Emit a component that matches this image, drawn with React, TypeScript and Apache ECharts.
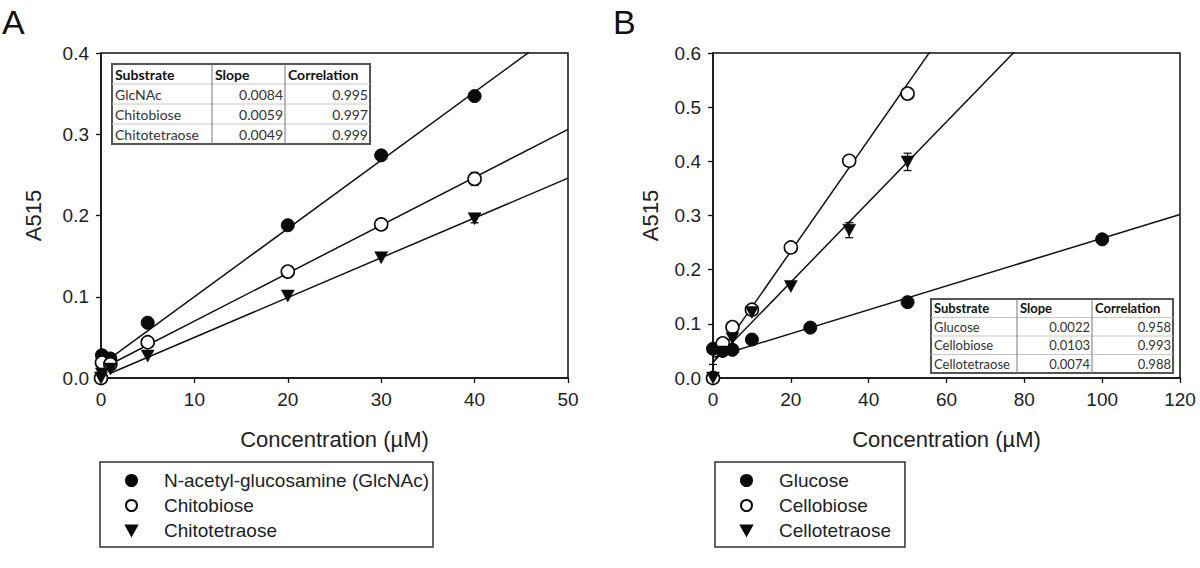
import React, { useEffect, useRef } from "react";
import * as echarts from "echarts";

// ---------- Panel A data ----------
const concA = [0, 0.1, 1, 5, 20, 30, 40];
const glcnacA = [0, 0.028, 0.024, 0.068, 0.188, 0.274, 0.347];
const chitobioseA = [0, 0.019, 0.017, 0.044, 0.131, 0.189, 0.245];
const chitotetraoseA = [0, 0.005, 0.011, 0.027, 0.101, 0.148, 0.196];
const glcnacErrA = [0, 0, 0, 0, 0, 0.005, 0];
const chitobioseErrA = [0, 0, 0, 0.006, 0, 0, 0.008];
const chitotetraoseErrA = [0, 0, 0, 0, 0, 0, 0.005];

const namesA = ["N-acetyl-glucosamine (GlcNAc)", "Chitobiose", "Chitotetraose"];
const substratesA = ["GlcNAc", "Chitobiose", "Chitotetraose"];
const slopesA = [0.0084, 0.0059, 0.0049];
const correlationsA = [0.995, 0.997, 0.999];
const interceptsA = [0.016, 0.011, 0.001];
const fitRangeA = [1, 50];

// ---------- Panel B data ----------
const glucoseX = [0, 2.5, 5, 10, 25, 50, 100];
const glucoseY = [0.054, 0.05, 0.052, 0.071, 0.093, 0.14, 0.256];
const glucoseErr = [0, 0, 0, 0, 0, 0, 0.004];
const concB = [0, 2.5, 5, 10, 20, 35, 50];
const cellobioseY = [0, 0.064, 0.094, 0.126, 0.241, 0.401, 0.525];
const cellotetraoseY = [0, 0.048, 0.073, 0.121, 0.169, 0.273, 0.399];
const cellobioseErr = [0, 0.006, 0, 0, 0, 0, 0];
const cellotetraoseErr = [0.025, 0, 0.012, 0, 0, 0.014, 0.016];

const namesB = ["Glucose", "Cellobiose", "Cellotetraose"];
const substratesB = ["Glucose", "Cellobiose", "Cellotetraose"];
const slopesB = [0.0022, 0.0103, 0.0074];
const correlationsB = [0.958, 0.993, 0.988];
const interceptsB = [0.038, 0.028, 0.029];
const fitRangeB = [0, 120];

const tableHeader = ["Substrate", "Slope", "Correlation"];

const AXIS_FONT = "'Liberation Sans', Arial, sans-serif";
const TABLE_FONT = "Lato, 'Open Sans', sans-serif";
const TRI = "path://M0,0L10,0L5,9Z";

const pairs = (xs: number[], ys: number[]) => xs.map((x, i) => [x, ys[i]]);
const errPairs = (xs: number[], ys: number[], es: number[]) =>
  xs.map((x, i) => [x, ys[i], es[i]]).filter((d) => d[2] > 0);
const fitLine = (slope: number, icpt: number, range: number[]) =>
  range.map((x) => [x, icpt + slope * x]);

function buildTable(
  colX: number[],
  top: number,
  rowH: number,
  fontSize: number,
  subs: string[],
  slopes: number[],
  corrs: number[]
) {
  const children: any[] = [];
  const nRows = subs.length + 1;
  const bottom = top + rowH * nRows;
  children.push({
    type: "rect",
    shape: { x: colX[0], y: top, width: colX[3] - colX[0], height: rowH * nRows },
    style: { fill: "#fff", stroke: "#555", lineWidth: 2 },
    z: 10,
  });
  for (let r = 1; r < nRows; r++) {
    children.push({
      type: "line",
      shape: { x1: colX[0], y1: top + r * rowH, x2: colX[3], y2: top + r * rowH },
      style: { stroke: "#c8c8c8", lineWidth: 1 },
      z: 11,
    });
  }
  for (let c = 1; c < 3; c++) {
    children.push({
      type: "line",
      shape: { x1: colX[c], y1: top, x2: colX[c], y2: bottom },
      style: { stroke: "#777", lineWidth: 1 },
      z: 11,
    });
  }
  tableHeader.forEach((h, c) => {
    children.push({
      type: "text",
      x: colX[c] + 3,
      y: top + rowH / 2,
      style: {
        text: h,
        fill: "#111",
        fontSize,
        fontWeight: "bold",
        fontFamily: TABLE_FONT,
        textAlign: "left",
        textVerticalAlign: "middle",
      },
      z: 12,
    });
  });
  subs.forEach((s, i) => {
    const cy = top + rowH * (i + 1) + rowH / 2;
    const cells = [s, slopes[i].toFixed(4), corrs[i].toFixed(3)];
    cells.forEach((t, c) => {
      children.push({
        type: "text",
        x: c === 0 ? colX[0] + 3 : colX[c + 1] - 2,
        y: cy,
        style: {
          text: t,
          fill: "#333",
          fontSize,
          fontFamily: TABLE_FONT,
          textAlign: c === 0 ? "left" : "right",
          textVerticalAlign: "middle",
        },
        z: 12,
      });
    });
  });
  return children;
}

function errorBarSeries(data: number[][], xi: number) {
  return {
    type: "custom",
    xAxisIndex: xi,
    yAxisIndex: xi,
    silent: true,
    z: 2,
    data,
    renderItem: (params: any, api: any) => {
      const x = api.value(0);
      const y = api.value(1);
      const e = api.value(2);
      const top = api.coord([x, y + e]);
      const bot = api.coord([x, Math.max(0, y - e)]);
      const hw = 4;
      const st = { stroke: "#111", lineWidth: 1.3 };
      return {
        type: "group",
        children: [
          { type: "line", shape: { x1: top[0], y1: top[1], x2: bot[0], y2: bot[1] }, style: st },
          { type: "line", shape: { x1: top[0] - hw, y1: top[1], x2: top[0] + hw, y2: top[1] }, style: st },
          { type: "line", shape: { x1: bot[0] - hw, y1: bot[1], x2: bot[0] + hw, y2: bot[1] }, style: st },
        ],
      };
    },
  };
}

function axisCommon(name: string) {
  return {
    type: "value",
    name,
    nameLocation: "middle",
    nameTextStyle: { fontSize: 22, fontFamily: AXIS_FONT, color: "#222" },
    axisLine: { show: true, lineStyle: { color: "#111", width: 1.5 } },
    axisTick: { show: true, inside: false, length: 5, lineStyle: { color: "#111", width: 1.3 } },
    axisLabel: { fontSize: 19, fontFamily: AXIS_FONT, color: "#222" },
    splitLine: { show: false },
  };
}

const markerStyles = [
  { symbol: "circle", symbolSize: 13, itemStyle: { color: "#0a0a0a", borderColor: "#0a0a0a", borderWidth: 1, opacity: 1 } },
  { symbol: "circle", symbolSize: 13, itemStyle: { color: "#fff", borderColor: "#0a0a0a", borderWidth: 1.6, opacity: 1 } },
  { symbol: TRI, symbolSize: [13, 12], itemStyle: { color: "#0a0a0a", borderColor: "#0a0a0a", borderWidth: 0.5, opacity: 1 } },
];

export default function App() {
  const ref = useRef<HTMLDivElement>(null);
  useEffect(() => {
    if (!ref.current) return;
    const chart = echarts.init(ref.current, undefined, { renderer: "svg" });

    const seriesA = [
      pairs(concA, glcnacA),
      pairs(concA, chitobioseA),
      pairs(concA, chitotetraoseA),
    ];
    const errA = [
      errPairs(concA, glcnacA, glcnacErrA),
      errPairs(concA, chitobioseA, chitobioseErrA),
      errPairs(concA, chitotetraoseA, chitotetraoseErrA),
    ];
    const seriesB = [
      pairs(glucoseX, glucoseY),
      pairs(concB, cellobioseY),
      pairs(concB, cellotetraoseY),
    ];
    const errB = [
      errPairs(glucoseX, glucoseY, glucoseErr),
      errPairs(concB, cellobioseY, cellobioseErr),
      errPairs(concB, cellotetraoseY, cellotetraoseErr),
    ];

    const series: any[] = [];
    [0, 1, 2].forEach((i) => {
      series.push({
        type: "line",
        xAxisIndex: 0,
        yAxisIndex: 0,
        data: fitLine(slopesA[i], interceptsA[i], fitRangeA),
        showSymbol: false,
        symbol: "none",
        silent: true,
        clip: true,
        lineStyle: { color: "#111", width: 1.5 },
        z: 1,
      });
      series.push({
        type: "line",
        xAxisIndex: 1,
        yAxisIndex: 1,
        data: fitLine(slopesB[i], interceptsB[i], fitRangeB),
        showSymbol: false,
        symbol: "none",
        silent: true,
        clip: true,
        lineStyle: { color: "#111", width: 1.5 },
        z: 1,
      });
      series.push(errorBarSeries(errA[i], 0));
      series.push(errorBarSeries(errB[i], 1));
    });
    [0, 1, 2].forEach((i) => {
      series.push({
        type: "scatter",
        name: namesA[i],
        xAxisIndex: 0,
        yAxisIndex: 0,
        data: seriesA[i],
        silent: true,
        z: 3,
        ...markerStyles[i],
      });
      series.push({
        type: "scatter",
        name: namesB[i],
        xAxisIndex: 1,
        yAxisIndex: 1,
        data: seriesB[i],
        silent: true,
        z: 3,
        ...markerStyles[i],
      });
    });

    const legendCommon = {
      orient: "vertical",
      top: 462,
      borderColor: "#333",
      borderWidth: 1.5,
      itemWidth: 11,
      itemHeight: 11,
      itemGap: 6,
      selectedMode: false,
      itemStyle: { opacity: 1 },
      textStyle: { fontSize: 19, fontFamily: AXIS_FONT, color: "#222", padding: [0, 0, 0, 22] },
    };

    chart.setOption({
      animation: false,
      backgroundColor: "#fff",
      grid: [
        { left: 101, top: 53, width: 467, height: 325, show: true, borderColor: "#111", borderWidth: 1.5, backgroundColor: "transparent" },
        { left: 713, top: 53, width: 467, height: 325, show: true, borderColor: "#111", borderWidth: 1.5, backgroundColor: "transparent" },
      ],
      xAxis: [
        { ...axisCommon("Concentration (µM)"), gridIndex: 0, min: 0, max: 50, interval: 10, nameGap: 50, axisLabel: { ...axisCommon("").axisLabel, margin: 12 } },
        { ...axisCommon("Concentration (µM)"), gridIndex: 1, min: 0, max: 120, interval: 20, nameGap: 50, axisLabel: { ...axisCommon("").axisLabel, margin: 12 } },
      ],
      yAxis: [
        { ...axisCommon("A515"), gridIndex: 0, min: 0, max: 0.4, interval: 0.1, nameGap: 57, axisLabel: { ...axisCommon("").axisLabel, margin: 12, formatter: (v: number) => v.toFixed(1) } },
        { ...axisCommon("A515"), gridIndex: 1, min: 0, max: 0.6, interval: 0.1, nameGap: 52, axisLabel: { ...axisCommon("").axisLabel, margin: 12, formatter: (v: number) => v.toFixed(1) } },
      ],
      legend: [
        { ...legendCommon, data: namesA, left: 100, padding: [9, 4, 7, 25] },
        { ...legendCommon, data: namesB, left: 715, padding: [9, 14, 7, 25] },
      ],
      graphic: [
        {
          type: "text",
          left: 2,
          top: 5,
          style: { text: "A", fontSize: 34, fontFamily: AXIS_FONT, fill: "#111" },
        },
        {
          type: "text",
          left: 613,
          top: 5,
          style: { text: "B", fontSize: 34, fontFamily: AXIS_FONT, fill: "#111" },
        },
        {
          type: "group",
          children: buildTable([112, 212, 285, 370], 64, 20, 14, substratesA, slopesA, correlationsA),
        },
        {
          type: "group",
          children: buildTable([931, 1017, 1092, 1173], 299, 18.5, 13, substratesB, slopesB, correlationsB),
        },
      ],
      series,
    });
    return () => chart.dispose();
  }, []);
  return (
    <div
      ref={ref}
      style={{ position: "fixed", left: 0, top: 0, width: 1200, height: 568, background: "#fff" }}
    />
  );
}
